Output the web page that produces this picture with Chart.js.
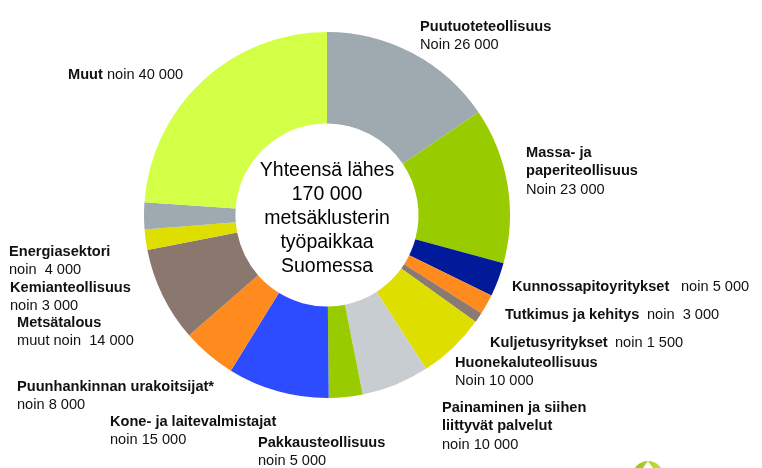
<!DOCTYPE html>
<html>
<head>
<meta charset="utf-8">
<script src="https://cdn.jsdelivr.net/npm/chart.js@4.4.1/dist/chart.umd.min.js"></script>
<style>
  html, body { margin: 0; padding: 0; background: #fff; }
  #wrap { position: relative; width: 762px; height: 468px; overflow: hidden; }
  #logo { position: absolute; left: 632px; top: 461px; width: 32px; height: 32px; border-radius: 50%;
          background: linear-gradient(90deg, #8cc21f, #c9e23b); }
  #logo:after { content: ""; position: absolute; left: 11px; top: 0; width: 0; height: 0;
          border-left: 5px solid transparent; border-right: 5px solid transparent; border-bottom: 7px solid #fff; }
</style>
</head>
<body>
<div id="wrap">
  <canvas id="c" width="762" height="468"></canvas>
  <div id="logo"></div>
</div>
<script>
// ---- Data (clockwise from 12 o'clock) ----
const categories = [
  "Puutuoteteollisuus", "Massa- ja paperiteollisuus", "Kunnossapitoyritykset",
  "Tutkimus ja kehitys", "Kuljetusyritykset", "Huonekaluteollisuus",
  "Painaminen ja siihen liittyvät palvelut", "Pakkausteollisuus",
  "Kone- ja laitevalmistajat", "Puunhankinnan urakoitsijat*", "Metsätalous muut",
  "Kemianteollisuus", "Energiasektori", "Muut"
];
const values = [26000, 23000, 5000, 3000, 1500, 10000, 10000, 5000, 15000, 8000, 14000, 3000, 4000, 40000];
const colors = [
  "#9ea9b0", "#99cc00", "#001a99", "#ff8a1e", "#8a7a72", "#dede00",
  "#c8cdd1", "#99cc00", "#2e4cff", "#ff8a1e", "#8a776d", "#dede00",
  "#9ea9b0", "#d4ff47"
];
const centerLines = ["Yhteensä lähes", "170 000", "metsäklusterin", "työpaikkaa", "Suomessa"];

// label text blocks: each line is a list of runs [text, bold, optional x]
const labelBlocks = [
  { x: 420, y: 31, lines: [[["Puutuoteteollisuus", true]], [["Noin 26 000", false]]] },
  { x: 526, y: 157, lines: [[["Massa- ja", true]], [["paperiteollisuus", true]], [["Noin 23 000", false]]] },
  { x: 512, y: 290.5, lines: [[["Kunnossapitoyritykset", true], ["noin 5 000", false, 681]]] },
  { x: 505, y: 319, lines: [[["Tutkimus ja kehitys", true], ["noin  3 000", false, 647]]] },
  { x: 490, y: 346.5, lines: [[["Kuljetusyritykset", true], ["noin 1 500", false, 615]]] },
  { x: 455, y: 367, lines: [[["Huonekaluteollisuus", true]], [["Noin 10 000", false]]] },
  { x: 442, y: 412, lines: [[["Painaminen ja siihen", true]], [["liittyvät palvelut", true]], [["noin 10 000", false]]] },
  { x: 258, y: 447, lines: [[["Pakkausteollisuus", true]], [["noin 5 000", false]]] },
  { x: 110, y: 425.5, lines: [[["Kone- ja laitevalmistajat", true]], [["noin 15 000", false]]] },
  { x: 17, y: 390.5, lines: [[["Puunhankinnan urakoitsijat*", true]], [["noin 8 000", false]]] },
  { x: 17, y: 327, lines: [[["Metsätalous", true]], [["muut noin  14 000", false]]] },
  { x: 10, y: 292, lines: [[["Kemianteollisuus", true]], [["noin 3 000", false]]] },
  { x: 9, y: 255.5, lines: [[["Energiasektori", true]], [["noin  4 000", false]]] },
  { x: 68, y: 79, lines: [[["Muut", true], [" noin 40 000", false]]] }
];

const FONT = "'Liberation Sans', Arial, sans-serif";
const LABEL_SIZE = 14.6;
const LINE_H = 18.3;

const textPlugin = {
  id: 'texts',
  afterDraw(chart) {
    const ctx = chart.ctx;
    ctx.save();
    ctx.fillStyle = "#111";
    ctx.textBaseline = "alphabetic";
    ctx.textAlign = "left";
    labelBlocks.forEach(b => {
      b.lines.forEach((line, i) => {
        let x = b.x;
        const y = b.y + i * LINE_H;
        line.forEach(run => {
          ctx.font = (run[1] ? "bold " : "") + LABEL_SIZE + "px " + FONT;
          if (run[2] !== undefined) x = run[2];
          ctx.fillText(run[0], x, y);
          x += ctx.measureText(run[0]).width;
        });
      });
    });
    // centre text
    const meta = chart.getDatasetMeta(0);
    const arc = meta.data[0];
    const cx = arc.x, cy = arc.y;
    ctx.fillStyle = "#000";
    ctx.textAlign = "center";
    ctx.font = "19.5px " + FONT;
    centerLines.forEach((t, i) => {
      ctx.fillText(t, cx, cy - 39 + i * 24);
    });
    ctx.restore();
  }
};

new Chart(document.getElementById('c'), {
  type: 'doughnut',
  data: {
    labels: categories,
    datasets: [{
      data: values,
      backgroundColor: colors,
      borderWidth: 0,
      hoverOffset: 0,
      offset: 0,
      spacing: 0
    }]
  },
  options: {
    responsive: false,
    animation: false,
    cutout: '50%',
    layout: { padding: { left: 144, right: 252, top: 32, bottom: 70 } },
    plugins: { legend: { display: false }, tooltip: { enabled: false } },
    events: []
  },
  plugins: [textPlugin]
});
</script>
</body>
</html>
